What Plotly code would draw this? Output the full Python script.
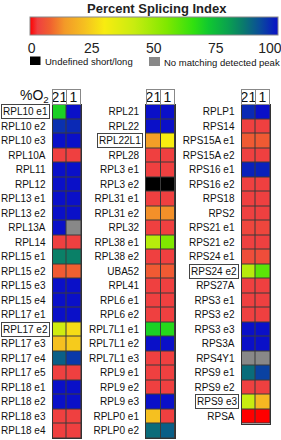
import plotly.graph_objects as go

# ---------------- data ----------------
# "U" = Undefined short/long (black), "N" = No matching detected peak (gray)
genes_p1 = ["RPL10 e1", "RPL10 e2", "RPL10 e3", "RPL10A", "RPL11", "RPL12", "RPL13 e1", "RPL13 e2",
            "RPL13A", "RPL14", "RPL15 e1", "RPL15 e2", "RPL15 e3", "RPL15 e4", "RPL17 e1", "RPL17 e2",
            "RPL17 e3", "RPL17 e4", "RPL17 e5", "RPL18 e1", "RPL18 e2", "RPL18 e3", "RPL18 e4"]
psi21_p1 = [70, 96, 100, 3, 100, 100, 100, 100, 100, 3, 85, 7, 100, 100, 100, 40, 22, 90, 3, 100, 100, 3, 3]
psi1_p1 = [100, 97, 100, 3, 100, 100, 100, 100, "N", 3, 85, 8, 100, 100, 100, 27, 24, 95, 3, 100, 100, 3, 3]

genes_p2 = ["RPL21", "RPL22", "RPL22L1", "RPL28", "RPL3 e1", "RPL3 e2", "RPL31 e1", "RPL31 e2", "RPL32",
            "RPL38 e1", "RPL38 e2", "UBA52", "RPL41", "RPL6 e1", "RPL6 e2", "RPL7L1 e1", "RPL7L1 e2",
            "RPL7L1 e3", "RPL9 e1", "RPL9 e2", "RPL9 e3", "RPLP0 e1", "RPLP0 e2"]
psi21_p2 = [100, 100, 15, 3, 3, "U", 3, 13, 3, 45, 3, 7, 3, 3, 3, 70, 100, 3, 3, 3, 100, 22, 88]
psi1_p2 = [100, 100, 30, 3, 3, "U", 3, 13, 3, 55, 3, 7, 3, 3, 3, 68, 100, 3, 3, 3, 100, 3, 90]

genes_p3 = ["RPLP1", "RPS14", "RPS15A e1", "RPS15A e2", "RPS16 e1", "RPS16 e2", "RPS18", "RPS2",
            "RPS21 e1", "RPS21 e2", "RPS24 e1", "RPS24 e2", "RPS27A", "RPS3 e1", "RPS3 e2", "RPS3 e3",
            "RPS3A", "RPS4Y1", "RPS9 e1", "RPS9 e2", "RPS9 e3", "RPSA"]
psi21_p3 = [97, 3, 7, 3, 98, 3, 3, 3, 4, 3, 5, 45, 3, 3, 3, 100, 100, "N", 88, 3, 42, 0]
psi1_p3 = [100, 3, 7, 3, 98, 3, 3, 3, 4, 3, 5, 60, 3, 3, 3, 100, 100, "N", 94, 3, 20, 0]

boxed_genes = ["RPL10 e1", "RPL17 e2", "RPL22L1", "RPS24 e2", "RPS9 e3"]
conditions = ["21", "1"]
cbar_ticks = [0, 25, 50, 75, 100]
cbar_labels = ["&nbsp;0", "25", "50", "75", "100&nbsp;&nbsp;&nbsp;&nbsp;"]

# ---------------- styling ----------------
colorscale = [
    [0.00, "#ff0000"], [0.03, "#ef4040"], [0.08, "#f06030"], [0.14, "#f39a28"],
    [0.22, "#f5c020"], [0.30, "#f8ec10"], [0.42, "#c8ec10"], [0.55, "#80e800"],
    [0.66, "#30e010"], [0.72, "#10c830"], [0.80, "#0aa050"], [0.86, "#0a7a6c"],
    [0.93, "#0a4a9c"], [1.00, "#0a10c8"],
]
special_scale = [[0, "#000000"], [0.5, "#000000"], [0.5, "#888888"], [1, "#888888"]]

LABEL_FONT = "Liberation Sans, Arial, sans-serif"
LSIZE = 10
W, H = 281, 440
row_h = 14.5
top_px = 104.5
xdom_px = [(52.5, 81), (146, 175), (241.5, 270)]

panels = [(genes_p1, psi21_p1, psi1_p1), (genes_p2, psi21_p2, psi1_p2), (genes_p3, psi21_p3, psi1_p3)]

fig = go.Figure()
annotations = []
layout_axes = {}

for i, (genes, a, b) in enumerate(panels):
    n = len(genes)
    ax = "" if i == 0 else str(i + 1)
    z = []
    zs = []
    for va, vb in zip(a, b):
        row, srow = [], []
        for v in (va, vb):
            if v == "U":
                row.append(None); srow.append(1)
            elif v == "N":
                row.append(None); srow.append(2)
            else:
                row.append(v); srow.append(None)
        z.append(row); zs.append(srow)
    ys = list(range(n))
    fig.add_trace(go.Heatmap(z=z, x=[0, 1], y=ys, coloraxis="coloraxis", xgap=1, ygap=1,
                             xaxis="x" + ax, yaxis="y" + ax, hoverongaps=False))
    fig.add_trace(go.Heatmap(z=zs, x=[0, 1], y=ys, colorscale=special_scale, zmin=1, zmax=2,
                             showscale=False, xgap=1, ygap=1, xaxis="x" + ax, yaxis="y" + ax,
                             hoverongaps=False))
    x0, x1 = xdom_px[i]
    bottom_px = top_px + n * row_h
    layout_axes["xaxis" + ax] = dict(domain=[x0 / W, x1 / W], range=[-0.5, 1.5], showticklabels=False,
                                     showgrid=False, zeroline=False, showline=True, mirror=True,
                                     linecolor="#333", linewidth=1, fixedrange=True,
                                     anchor="y" + ax, automargin=False)
    layout_axes["yaxis" + ax] = dict(domain=[(H - bottom_px) / H, (H - top_px) / H],
                                     range=[n - 0.5, -0.5], tickvals=ys,
                                     ticktext=["" if g in boxed_genes else g for g in genes],
                                     tickfont=dict(family=LABEL_FONT, size=LSIZE, color="#111"),
                                     ticks="", showgrid=False, zeroline=False, showline=True,
                                     mirror=True, linecolor="#333", linewidth=1, anchor="x" + ax,
                                     ticklabelstandoff=4, automargin=False)
    for g in genes:
        if g in boxed_genes:
            annotations.append(dict(text=g, xref="x" + ax + " domain", yref="y" + ax, x=0,
                                    y=genes.index(g), xanchor="right", yanchor="middle", xshift=-3,
                                    showarrow=False, bordercolor="#444", borderwidth=1, borderpad=1,
                                    bgcolor="white",
                                    font=dict(family=LABEL_FONT, size=LSIZE, color="#111")))
    for j, c in enumerate(conditions):
        annotations.append(dict(text=c, xref="x" + ax, yref="paper", x=j, y=(H - 96.5) / H,
                                xanchor="center", yanchor="middle", showarrow=False, width=13,
                                height=14, bordercolor="#888", borderwidth=1, borderpad=0,
                                font=dict(family=LABEL_FONT, size=14, color="#111")))

annotations.append(dict(text="%O<sub>2</sub>", xref="paper", yref="paper", x=51 / W, y=(H - 96) / H,
                        xanchor="right", yanchor="middle", showarrow=False,
                        font=dict(family=LABEL_FONT, size=14, color="#111")))
annotations.append(dict(text="<b>Percent Splicing Index</b>", xref="paper", yref="paper",
                        x=157 / W, y=(H - 8) / H, xanchor="center", yanchor="middle", showarrow=False,
                        font=dict(family="Liberation Sans, Arial, sans-serif", size=13, color="#222")))
annotations.append(dict(text="Undefined short/long", xref="paper", yref="paper", x=43 / W,
                        y=(H - 61.5) / H, xanchor="left", yanchor="middle", showarrow=False,
                        font=dict(family=LABEL_FONT, size=9.5, color="#111")))
annotations.append(dict(text="No matching detected peak", xref="paper", yref="paper", x=162 / W,
                        y=(H - 62.5) / H, xanchor="left", yanchor="middle", showarrow=False,
                        font=dict(family=LABEL_FONT, size=9.5, color="#111")))

shapes = [
    dict(type="rect", xref="paper", yref="paper", x0=30 / W, x1=40.5 / W, y0=(H - 65) / H,
         y1=(H - 56.5) / H, fillcolor="#000", line=dict(width=0)),
    dict(type="rect", xref="paper", yref="paper", x0=149 / W, x1=160 / W, y0=(H - 66) / H,
         y1=(H - 57) / H, fillcolor="#888", line=dict(width=0)),
]

fig.update_layout(
    width=W, height=H, margin=dict(l=0, r=0, t=0, b=0, pad=0, autoexpand=False),
    paper_bgcolor="white", plot_bgcolor="#3a3a3a",
    coloraxis=dict(colorscale=colorscale, cmin=0, cmax=100,
                   colorbar=dict(orientation="h", x=153.7 / W, xanchor="center", y=(H - 17.3) / H,
                                 yanchor="top", len=248 / W, lenmode="fraction", thickness=18,
                                 thicknessmode="pixels", outlinewidth=1, outlinecolor="#888",
                                 xpad=0, ypad=0, tickvals=cbar_ticks, ticktext=cbar_labels,
                                 ticks="", ticklabeloverflow="allow",
                                 tickfont=dict(family=LABEL_FONT, size=14, color="#222"))),
    annotations=annotations, shapes=shapes, showlegend=False,
    **layout_axes,
)

fig.write_html("out.html")
